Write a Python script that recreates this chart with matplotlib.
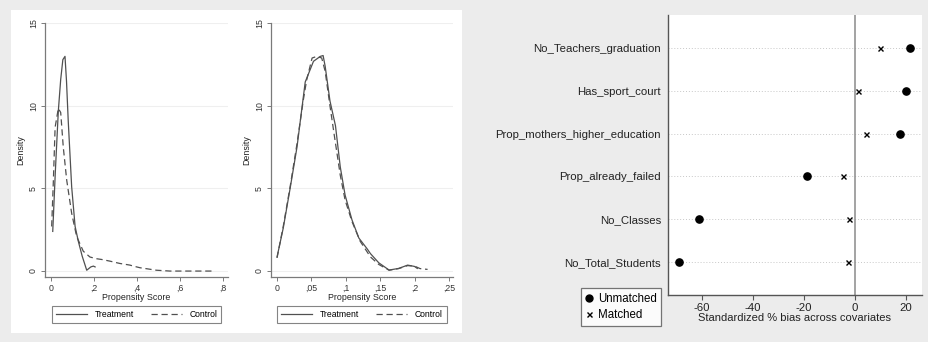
import matplotlib
matplotlib.use("Agg")
import matplotlib.pyplot as plt
from matplotlib.patches import Rectangle
from matplotlib.lines import Line2D

plt.rcParams['font.family'] = ['Liberation Sans', 'DejaVu Sans']
plt.rcParams['axes.unicode_minus'] = False

# ---- Data: panel 1 (before matching) ----
p1_treat_x = [0.008, 0.02, 0.034, 0.045, 0.055, 0.065, 0.072, 0.08, 0.096, 0.112, 0.127, 0.145, 0.166, 0.185, 0.197, 0.205]
p1_treat_y = [2.4, 6.0, 9.7, 11.6, 12.8, 13.0, 11.5, 9.1, 5.1, 2.7, 1.8, 0.9, 0.05, 0.25, 0.3, 0.25]
p1_ctrl_x = [0.003, 0.011, 0.019, 0.034, 0.045, 0.057, 0.073, 0.096, 0.119, 0.15, 0.181, 0.21, 0.236, 0.274, 0.32, 0.367, 0.383, 0.414, 0.445, 0.49, 0.553, 0.65, 0.747]
p1_ctrl_y = [2.7, 5.5, 8.7, 9.85, 9.6, 7.5, 5.5, 3.5, 2.1, 1.2, 0.85, 0.75, 0.7, 0.6, 0.46, 0.36, 0.3, 0.2, 0.14, 0.05, 0.0, 0.0, 0.0]

# ---- Data: panel 2 (after matching) ----
p2_treat_x = [0.0, 0.009, 0.019, 0.029, 0.041, 0.053, 0.063, 0.067, 0.070, 0.077, 0.085, 0.092, 0.099, 0.109, 0.119, 0.131, 0.136, 0.148, 0.163, 0.177, 0.19, 0.2, 0.204]
p2_treat_y = [0.85, 2.6, 5.0, 7.5, 11.45, 12.7, 13.0, 13.05, 12.4, 10.3, 8.8, 6.3, 4.6, 3.1, 2.0, 1.35, 1.05, 0.5, 0.06, 0.16, 0.36, 0.28, 0.16]
p2_ctrl_x = [0.0, 0.009, 0.019, 0.029, 0.038, 0.043, 0.051, 0.058, 0.065, 0.070, 0.077, 0.083, 0.092, 0.099, 0.109, 0.121, 0.136, 0.148, 0.163, 0.177, 0.19, 0.2, 0.208, 0.219]
p2_ctrl_y = [0.8, 2.7, 5.1, 7.7, 10.3, 11.55, 12.9, 13.0, 12.9, 12.1, 10.0, 8.3, 5.8, 4.3, 3.0, 1.8, 0.85, 0.4, 0.05, 0.15, 0.33, 0.3, 0.15, 0.1]

# ---- Data: covariate balance ----
covariates = ["No_Total_Students", "No_Classes", "Prop_already_failed",
              "Prop_mothers_higher_education", "Has_sport_court", "No_Teachers_graduation"]
bias_unmatched = [-68.9, -61.2, -18.6, 17.6, 20.0, 21.6]
bias_matched = [-2.9, -2.2, -4.6, 4.2, 1.3, 9.9]

W, H = 929, 342
fig = plt.figure(figsize=(W / 100, H / 100), dpi=100)
fig.patch.set_facecolor('#ececec')

# white box behind left panel
fig.patches.append(Rectangle((11 / W, 1 - 333 / H), (462 - 11) / W, (333 - 10) / H,
                             transform=fig.transFigure, facecolor='white', edgecolor='none', zorder=-5))

line_col = '#505050'
spine_col = '#7a7a7a'


def dens_ax(rect, tx, ty, cx, cy, xlim, xticks, xticklabels):
    ax = fig.add_axes(rect)
    ax.set_facecolor('white')
    for y in [0, 5, 10, 15]:
        ax.axhline(y, color='#efefef', lw=0.8, zorder=0)
    ax.plot(tx, ty, color=line_col, lw=0.9, ls='-', label='Treatment')
    ax.plot(cx, cy, color=line_col, lw=0.9, ls=(0, (5, 3)), label='Control')
    ax.set_xlim(*xlim)
    ax.set_ylim(-0.36, 15.02)
    ax.set_xticks(xticks)
    ax.set_xticklabels(xticklabels)
    ax.set_yticks([0, 5, 10, 15])
    ax.set_yticklabels(['0', '5', '10', '15'], rotation=90, va='center')
    for s in ['top', 'right']:
        ax.spines[s].set_visible(False)
    for s in ['left', 'bottom']:
        ax.spines[s].set_color(spine_col)
        ax.spines[s].set_linewidth(0.9)
    ax.tick_params(axis='both', labelsize=6.3, length=3, width=0.7,
                   direction='out', pad=2, colors=spine_col, labelcolor='#333333')
    ax.set_xlabel('Propensity Score', fontsize=6.4, labelpad=0, color='#222222')
    ax.set_ylabel('Density', fontsize=6.4, labelpad=3, color='#222222')
    leg = ax.legend(loc='upper center', bbox_to_anchor=(0.5, -0.114), borderaxespad=0,
                    ncol=2, fontsize=6.2, frameon=True, fancybox=False, handlelength=3.6,
                    borderpad=0.45, handletextpad=0.9, columnspacing=2.0)
    leg.get_frame().set_edgecolor('#666666')
    leg.get_frame().set_linewidth(0.8)
    return ax


dens_ax([45 / W, 1 - 277 / H, 183 / W, 254 / H], p1_treat_x, p1_treat_y, p1_ctrl_x, p1_ctrl_y,
        (-0.028, 0.823), [0, 0.2, 0.4, 0.6, 0.8], ['0', ',2', ',4', ',6', ',8'])
dens_ax([271 / W, 1 - 277 / H, 182 / W, 254 / H], p2_treat_x, p2_treat_y, p2_ctrl_x, p2_ctrl_y,
        (-0.0088, 0.256), [0, 0.05, 0.1, 0.15, 0.2, 0.25], ['0', ',05', ',1', ',15', ',2', ',25'])

# ---- covariate balance panel ----
ax3 = fig.add_axes([668 / W, 1 - 295 / H, 254 / W, 280 / H])
ax3.set_facecolor('white')
ypos = list(range(1, len(covariates) + 1))
for y in ypos:
    ax3.axhline(y, color='#c8c8c8', lw=0.7, ls=(0, (1, 2)), zorder=1)
ax3.axvline(0, color='#8a8a8a', lw=1.1, zorder=1)
ax3.plot(bias_unmatched, ypos, 'o', color='black', ms=5.2, ls='none', zorder=3, label='Unmatched')
ax3.plot(bias_matched, ypos, 'x', color='black', ms=3.6, mew=1.0, ls='none', zorder=3, label='Matched')
ax3.set_xlim(-73.3, 26.3)
ax3.set_ylim(0.23, 6.77)
ax3.set_yticks(ypos)
ax3.set_yticklabels(covariates)
ax3.set_xticks([-60, -40, -20, 0, 20])
for s in ['top', 'right']:
    ax3.spines[s].set_visible(False)
for s in ['left', 'bottom']:
    ax3.spines[s].set_color('#555555')
    ax3.spines[s].set_linewidth(1.0)
ax3.tick_params(axis='y', length=0, pad=5, labelsize=8.2, labelcolor='#222222')
ax3.tick_params(axis='x', length=3.5, width=0.8, color='#555555', pad=2, labelsize=8.2,
                labelcolor='#222222')
ax3.set_xlabel('Standardized % bias across covariates', fontsize=8.0, labelpad=0, color='#222222')

handles = [Line2D([], [], marker='o', color='black', ls='none', ms=5.0),
           Line2D([], [], marker='x', color='black', ls='none', ms=3.6, mew=1.0)]
leg3 = fig.legend(handles, ['Unmatched', 'Matched'], loc='upper left',
                  bbox_to_anchor=(581 / W, 1 - 288 / H), borderaxespad=0,
                  fontsize=8.3, frameon=True, fancybox=False,
                  handlelength=0.6, handletextpad=0.45, borderpad=0.4, labelspacing=0.42)
leg3.get_frame().set_edgecolor('#555555')
leg3.get_frame().set_linewidth(0.9)
leg3.get_frame().set_facecolor('white')

fig.savefig('out.png', dpi=100, facecolor=fig.get_facecolor())
